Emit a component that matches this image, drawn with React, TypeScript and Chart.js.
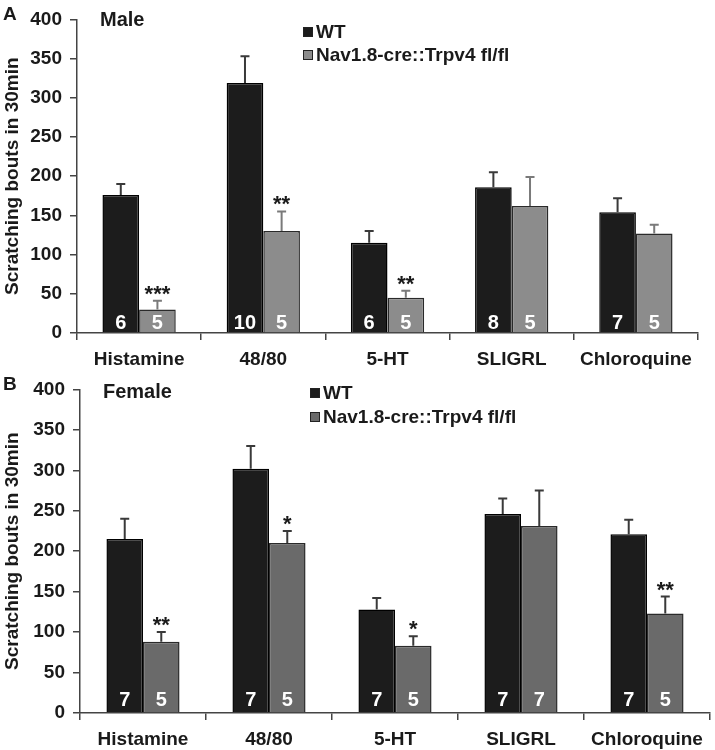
import React, { useEffect, useRef } from "react";
import { Chart, registerables } from "chart.js";

Chart.register(...registerables);

const categories = ["Histamine", "48/80", "5-HT", "SLIGRL", "Chloroquine"];
const seriesNames = ["WT", "Nav1.8-cre::Trpv4 fl/fl"];

const maleWT = [176, 319, 115, 186, 154];
const maleWTErr = [14, 34, 15, 19, 18];
const maleKO = [30, 130, 45, 162, 127];
const maleKOErr = [11, 25, 9, 37, 11];
const maleWTn = ["6", "10", "6", "8", "7"];
const maleKOn = ["5", "5", "5", "5", "5"];
const maleKOSig = ["***", "**", "**", "", ""];

const femaleWT = [215, 302, 128, 246, 221];
const femaleWTErr = [25, 28, 14, 19, 18];
const femaleKO = [88, 210, 83, 231, 123];
const femaleKOErr = [12, 15, 12, 44, 21];
const femaleWTn = ["7", "7", "7", "7", "7"];
const femaleKOn = ["5", "5", "5", "7", "5"];
const femaleKOSig = ["**", "*", "*", "", "**"];

const yMin = 0;
const yMax = 400;
const yStep = 50;
const yTitle = "Scratching bouts in 30min";

const FONT = '"Liberation Sans", Arial, sans-serif';

const overlayPlugin = {
  id: "overlay",
  afterDatasetsDraw(chart: any, _args: any, opts: any) {
    const ctx = chart.ctx;
    const yScale = chart.scales.y;
    const zeroY = yScale.getPixelForValue(0);
    chart.data.datasets.forEach((ds: any, di: number) => {
      const meta = chart.getDatasetMeta(di);
      const errs = opts.errors[di];
      const ns = opts.ns[di];
      const sig = opts.sig[di];
      meta.data.forEach((el: any, j: number) => {
        const v = ds.data[j];
        const topY = yScale.getPixelForValue(v + errs[j]);
        ctx.save();
        ctx.strokeStyle = opts.errColors[di];
        ctx.lineWidth = 2;
        ctx.beginPath();
        ctx.moveTo(el.x, el.y);
        ctx.lineTo(el.x, topY);
        ctx.moveTo(el.x - 4.5, topY);
        ctx.lineTo(el.x + 4.5, topY);
        ctx.stroke();
        if (sig && sig[j]) {
          ctx.fillStyle = "#1a1a1a";
          ctx.font = `bold 22px ${FONT}`;
          ctx.textAlign = "center";
          ctx.textBaseline = "alphabetic";
          ctx.fillText(sig[j], el.x, topY + 0);
        }
        ctx.fillStyle = "#ffffff";
        ctx.font = `bold 20px ${FONT}`;
        ctx.textAlign = "center";
        ctx.textBaseline = "middle";
        ctx.fillText(ns[j], el.x, zeroY - opts.nOffset);
        ctx.restore();
      });
    });
  },
  afterDraw(chart: any, _args: any, opts: any) {
    const ctx = chart.ctx;
    const area = chart.chartArea;
    ctx.save();
    ctx.fillStyle = "#1a1a1a";
    ctx.textBaseline = "middle";
    ctx.textAlign = "left";
    ctx.font = `bold 19px ${FONT}`;
    ctx.fillText(opts.letter, 3, opts.letterY);
    ctx.font = `bold 20px ${FONT}`;
    ctx.fillText(opts.title, opts.titleX, opts.titleY);
    // legend
    ctx.font = `bold 19px ${FONT}`;
    opts.legend.forEach((item: any, i: number) => {
      const y = opts.legendY[i];
      ctx.fillStyle = item.fill;
      ctx.fillRect(opts.legendX, y - 5, 10, 10);
      ctx.strokeStyle = "#222";
      ctx.lineWidth = 1;
      ctx.strokeRect(opts.legendX + 0.5, y - 4.5, 9, 9);
      ctx.fillStyle = "#1a1a1a";
      ctx.fillText(item.label, opts.legendX + 13, y + 1);
    });
    // y title
    ctx.translate(13, (area.top + area.bottom) / 2);
    ctx.rotate(-Math.PI / 2);
    ctx.textAlign = "center";
    ctx.font = `bold 19px ${FONT}`;
    ctx.fillText(yTitle, 0, 0);
    ctx.restore();
  },
};

type PanelProps = {
  height: number;
  left: number;
  right: number;
  top: number;
  bottom: number;
  wt: number[];
  ko: number[];
  wtErr: number[];
  koErr: number[];
  wtN: string[];
  koN: string[];
  koSig: string[];
  koColor: string;
  koErrColor: string;
  letter: string;
  title: string;
  titleX: number;
  titleY: number;
  legendX: number;
  legendY: number[];
  nOffset: number;
  catPct: number;
};

function Panel(p: PanelProps) {
  const ref = useRef<HTMLCanvasElement>(null);
  useEffect(() => {
    if (!ref.current) return;
    const chart = new Chart(ref.current, {
      type: "bar",
      data: {
        labels: categories,
        datasets: [
          {
            label: seriesNames[0],
            data: p.wt,
            backgroundColor: "#1c1c1c",
            borderColor: "#000000",
            borderWidth: 1.5,
            barPercentage: 1,
            categoryPercentage: p.catPct,
          },
          {
            label: seriesNames[1],
            data: p.ko,
            backgroundColor: p.koColor,
            borderColor: "#2a2a2a",
            borderWidth: 1.5,
            barPercentage: 1,
            categoryPercentage: p.catPct,
          },
        ],
      },
      options: {
        animation: false,
        responsive: false,
        devicePixelRatio: 1,
        layout: { padding: { left: 0, right: 715 - p.right, top: p.top, bottom: 0 } },
        plugins: {
          legend: { display: false },
          tooltip: { enabled: false },
          overlay: {
            errors: [p.wtErr, p.koErr],
            ns: [p.wtN, p.koN],
            sig: [null, p.koSig],
            errColors: ["#3a3a3a", p.koErrColor],
            nOffset: p.nOffset,
            letter: p.letter,
            letterY: p.top,
            title: p.title,
            titleX: p.titleX,
            titleY: p.titleY,
            legendX: p.legendX,
            legendY: p.legendY,
            legend: [
              { label: seriesNames[0], fill: "#1c1c1c" },
              { label: seriesNames[1], fill: p.koColor },
            ],
          },
        } as any,
        scales: {
          x: {
            afterFit: (s: any) => {
              s.height = p.height - p.bottom;
            },
            grid: {
              drawOnChartArea: false,
              drawTicks: true,
              tickLength: 7,
              color: "#444",
              lineWidth: 1.5,
              offset: true,
            },
            border: { display: true, color: "#444", width: 1.5 },
            ticks: {
              color: "#1a1a1a",
              font: { family: FONT, size: 19, weight: "bold" },
              padding: 8,
              maxRotation: 0,
              autoSkip: false,
            },
          },
          y: {
            min: yMin,
            max: yMax,
            afterFit: (s: any) => {
              s.width = p.left;
            },
            grid: {
              drawOnChartArea: false,
              drawTicks: true,
              tickLength: 7,
              color: "#444",
              lineWidth: 1.5,
            },
            border: { display: true, color: "#444", width: 1.5 },
            ticks: {
              stepSize: yStep,
              color: "#1a1a1a",
              font: { family: FONT, size: 19, weight: "bold" },
              padding: 8,
            },
          },
        },
      } as any,
      plugins: [overlayPlugin],
    });
    return () => chart.destroy();
  }, []);
  return <canvas ref={ref} width={715} height={p.height} style={{ display: "block" }} />;
}

export default function App() {
  return (
    <div style={{ position: "absolute", left: 0, top: 0, width: 715, height: 750, background: "#fff" }}>
      <Panel
        height={370}
        left={77}
        right={698}
        top={15}
        bottom={333}
        wt={maleWT}
        ko={maleKO}
        wtErr={maleWTErr}
        koErr={maleKOErr}
        wtN={maleWTn}
        koN={maleKOn}
        koSig={maleKOSig}
        koColor="#8c8c8c"
        koErrColor="#7a7a7a"
        letter="A"
        title="Male"
        titleX={100}
        titleY={20}
        legendX={303}
        legendY={[32, 55]}
        nOffset={10}
        catPct={0.59}
      />
      <Panel
        height={380}
        left={80}
        right={710}
        top={15}
        bottom={343}
        wt={femaleWT}
        ko={femaleKO}
        wtErr={femaleWTErr}
        koErr={femaleKOErr}
        wtN={femaleWTn}
        koN={femaleKOn}
        koSig={femaleKOSig}
        koColor="#6a6a6a"
        koErrColor="#3a3a3a"
        letter="B"
        title="Female"
        titleX={103}
        titleY={22}
        legendX={310}
        legendY={[23, 47]}
        nOffset={13}
        catPct={0.58}
      />
    </div>
  );
}
